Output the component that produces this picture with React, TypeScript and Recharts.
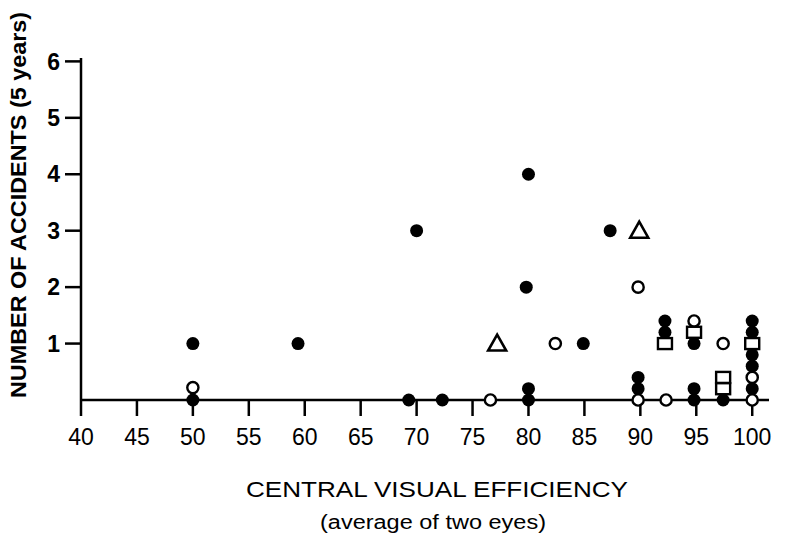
import React from 'react';
import { ScatterChart, Scatter, XAxis, YAxis, Label } from 'recharts';

// Tick values
const xTicks = [40, 45, 50, 55, 60, 65, 70, 75, 80, 85, 90, 95, 100];
const yTicks = [1, 2, 3, 4, 5, 6];

// Filled circles
const filledPoints = [
  { x: 50, y: 1 }, { x: 50, y: 0 },
  { x: 59.4, y: 1 },
  { x: 69.3, y: 0 }, { x: 70, y: 3 },
  { x: 72.3, y: 0 },
  { x: 80, y: 4 }, { x: 79.8, y: 2 }, { x: 80, y: 0.2 }, { x: 80, y: 0 },
  { x: 84.9, y: 1 },
  { x: 87.3, y: 3 },
  { x: 89.8, y: 0.4 }, { x: 89.8, y: 0.2 },
  { x: 92.2, y: 1.4 }, { x: 92.2, y: 1.2 },
  { x: 94.8, y: 1.0 }, { x: 94.8, y: 0.2 }, { x: 94.8, y: 0 },
  { x: 97.4, y: 0 },
  { x: 100, y: 1.4 }, { x: 100, y: 1.2 }, { x: 100, y: 0.8 }, { x: 100, y: 0.6 }, { x: 100, y: 0.2 },
];

// Open circles
const openPoints = [
  { x: 50, y: 0.22 },
  { x: 76.6, y: 0 },
  { x: 82.4, y: 1 },
  { x: 89.8, y: 2 }, { x: 89.8, y: 0 },
  { x: 92.3, y: 0 },
  { x: 94.8, y: 1.4 },
  { x: 97.4, y: 1.0 },
  { x: 100, y: 0.4 }, { x: 100, y: 0 },
];

// Open squares
const squarePoints = [
  { x: 92.2, y: 1.0 },
  { x: 94.8, y: 1.2 },
  { x: 97.4, y: 0.4 }, { x: 97.4, y: 0.2 },
  { x: 100, y: 1.0 },
];

// Open triangles
const trianglePoints = [
  { x: 77.2, y: 1 },
  { x: 89.9, y: 3 },
];

const FONT = "'Liberation Sans', Arial, sans-serif";

const FilledDot = (p: any) => <circle cx={p.cx} cy={p.cy} r={6.5} fill="#000" />;
const OpenDot = (p: any) => (
  <circle cx={p.cx} cy={p.cy} r={5.6} fill="#fff" stroke="#000" strokeWidth={2.4} />
);
const SquareMark = (p: any) => (
  <rect x={p.cx - 7} y={p.cy - 5.5} width={14} height={11} fill="#fff" stroke="#000" strokeWidth={2.4} />
);
const TriangleMark = (p: any) => (
  <polygon
    points={`${p.cx},${p.cy - 9} ${p.cx - 9},${p.cy + 7} ${p.cx + 9},${p.cy + 7}`}
    fill="#fff"
    stroke="#000"
    strokeWidth={2.6}
    strokeLinejoin="miter"
  />
);

const XTitle = () => (
  <g>
    <text x={437} y={497} textAnchor="middle" fontFamily={FONT} fontSize={22} fill="#000"
      textLength={382} lengthAdjust="spacingAndGlyphs">CENTRAL VISUAL EFFICIENCY</text>
    <text x={433} y={529} textAnchor="middle" fontFamily={FONT} fontSize={20} fill="#000"
      textLength={226} lengthAdjust="spacingAndGlyphs">(average of two eyes)</text>
  </g>
);

const YTitle = () => (
  <text x={0} y={0} transform="translate(26,205) rotate(-90)" textAnchor="middle"
    fontFamily={FONT} fontSize={22} fontWeight="bold" fill="#000"
    textLength={386} lengthAdjust="spacingAndGlyphs">NUMBER OF ACCIDENTS (5 years)</text>
);

export default function App() {
  return (
    <div style={{ position: 'absolute', left: 0, top: 0, width: 792, height: 534, background: '#fff' }}>
      <ScatterChart width={792} height={534} margin={{ top: 58, right: 23, bottom: 0, left: 0 }}>
        <XAxis
          type="number"
          dataKey="x"
          domain={[40, 101.5]}
          ticks={xTicks}
          interval={0}
          height={134}
          tickSize={16}
          tickMargin={13}
          stroke="#000"
          strokeWidth={2.5}
          tick={{ fill: '#000', fontSize: 23, fontFamily: FONT }}
        >
          <Label content={XTitle} />
        </XAxis>
        <YAxis
          type="number"
          dataKey="y"
          domain={[0, 6.06]}
          ticks={yTicks}
          interval={0}
          width={81}
          tickSize={16}
          tickMargin={5}
          stroke="#000"
          strokeWidth={2.5}
          tick={{ fill: '#000', fontSize: 23, fontWeight: 'bold', fontFamily: FONT }}
        >
          <Label content={YTitle} />
        </YAxis>
        <Scatter data={filledPoints} shape={FilledDot} isAnimationActive={false} />
        <Scatter data={openPoints} shape={OpenDot} isAnimationActive={false} />
        <Scatter data={squarePoints} shape={SquareMark} isAnimationActive={false} />
        <Scatter data={trianglePoints} shape={TriangleMark} isAnimationActive={false} />
      </ScatterChart>
    </div>
  );
}
